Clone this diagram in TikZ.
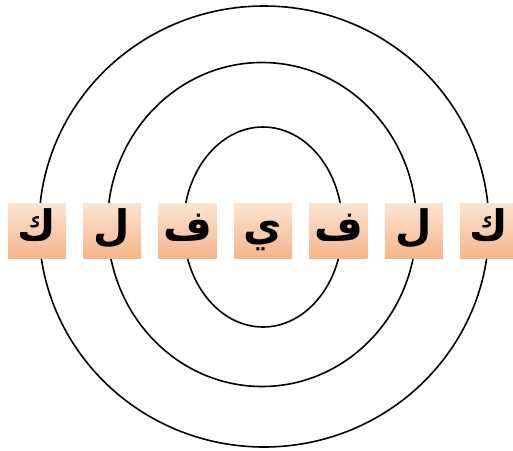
\documentclass[tikz,border=0pt]{standalone}
\usepackage{fontspec}
\usepackage{tikz}
\usetikzlibrary{positioning}
\newfontfamily\arabicfont[Script=Arabic]{DejaVu Sans}
\TeXXeTstate=1
\definecolor{PeachTop}{HTML}{FCE4D3}
\definecolor{PeachBot}{HTML}{F5B589}
\tikzset{
  letterbox/.style={minimum width=58pt, minimum height=55pt, inner sep=0pt,
    text height=20pt, text depth=0pt,
    top color=PeachTop, bottom color=PeachBot,
    font=\arabicfont\bfseries\fontsize{42}{42}\selectfont},
  ring/.style={draw=black, line width=1.6pt},
}

\begin{document}
\begin{tikzpicture}[x=1pt, y=-1pt]
  \useasboundingbox (0,0) rectangle (513,450);

  % rings
  \draw[ring] (264,226.5) ellipse [x radius=225, y radius=220.5];
  \draw[ring] (262,224.5) ellipse [x radius=154.5, y radius=162];
  \draw[ring] (263,227) ellipse [x radius=79.5, y radius=100];

  % letters
  \node[letterbox] (ya) at (263,230.5) {\beginR ي\endR};
  \node[letterbox, left=17pt of ya] (faL) {\beginR ف\endR};
  \node[letterbox, left=17pt of faL] (lamL) {\beginR ل\endR};
  \node[letterbox, left=17pt of lamL] (kafL) {\beginR ك\endR};
  \node[letterbox, right=17pt of ya] (faR) {\beginR ف\endR};
  \node[letterbox, right=17pt of faR] (lamR) {\beginR ل\endR};
  \node[letterbox, right=17pt of lamR] (kafR) {\beginR ك\endR};
\end{tikzpicture}
\end{document}
